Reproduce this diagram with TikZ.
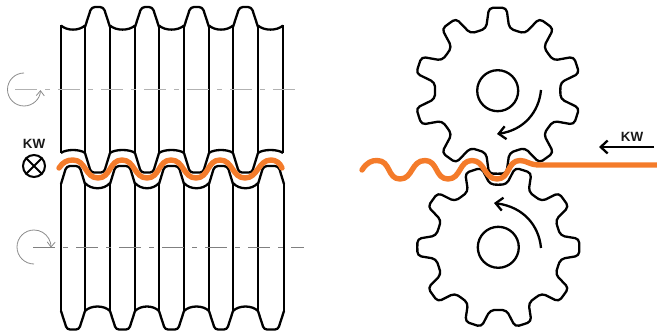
\documentclass[tikz,border=0pt]{standalone}
\usepackage{fontspec}
\setmainfont{Liberation Sans}
\usetikzlibrary{arrows.meta,calc}
\definecolor{wire}{HTML}{F47B2A}
\tikzset{
  rollline/.style={line width=2.3pt,black,line join=round},
  wireline/.style={line width=5.4pt,wire,line cap=round,line join=round},
  axisA/.style={line width=1pt,black!30,dash pattern=on 22pt off 8pt on 5pt off 8pt},
  axisB/.style={line width=.9pt,black!50,dash pattern=on 22pt off 8pt on 5pt off 8pt},
  turn/.style={line width=.8pt,black!45,-{Straight Barb[length=5pt,width=8pt]}},
  sense/.style={line width=2.3pt,black,-{Straight Barb[length=7pt,width=13pt]}},
  kwlabel/.style={font=\bfseries\fontsize{13.4}{15}\selectfont,inner sep=0pt,text=black!90},
}
% #1 centre, #2 angle of first tooth, #3 tip radius
\newcommand{\gearoutline}[3]{%
  \draw[rollline,rounded corners=4pt] ($(#1)+(#2:#3)$)
   \foreach \k in {0,...,8}{
     -- ($(#1)+(#2+36*\k+6:#3+.3)$)
     -- ($(#1)+(#2+36*\k+10.5:63.5)$)
     -- ($(#1)+(#2+36*\k+18:62.5)$)
     -- ($(#1)+(#2+36*\k+25.5:63.5)$)
     -- ($(#1)+(#2+36*\k+30:#3+.3)$)
     -- ($(#1)+(#2+36*\k+36:#3)$)
   }
     -- ($(#1)+(#2+324+6:#3+.3)$)
     -- ($(#1)+(#2+324+10.5:63.5)$)
     -- ($(#1)+(#2+324+18:62.5)$)
     -- ($(#1)+(#2+324+25.5:63.5)$)
     -- ($(#1)+(#2+324+30:#3+.3)$)
     -- cycle;}
\begin{document}
\begin{tikzpicture}[x=1pt,y=-1pt]
\useasboundingbox (0,0) rectangle (657,334);
% ---- rolls
\foreach \s/\e in {61/85,110/135,159/184,209/233,258/283}{
  \draw[rollline] (\s,25.5) .. controls ({\s+6},31) and ({\e-6},31) .. (\e,25.5);
  \draw[rollline] (\s,153) .. controls ({\s+5},149) and ({\e-5},149) .. (\e,153);
  \draw[rollline] (\s,25.5) -- (\s,153) (\e,25.5) -- (\e,153);
}
\foreach \s/\e in {85/110,135/159,184/209,233/258}{
  \draw[rollline,rounded corners=3.5pt] (\s,27) -- ({\s+6.5},7) -- ({\e-6.5},7) -- (\e,27);
  \draw[rollline,rounded corners=3pt] (\s,153) -- ({\s+6},172.5) -- ({\e-6},172.5) -- (\e,153);
  \draw[rollline] (\s,183) .. controls ({\s+6},190) and ({\e-6},190) .. (\e,183);
  \draw[rollline] (\s,311) .. controls ({\s+6},305) and ({\e-6},305) .. (\e,311);
  \draw[rollline] (\s,183) -- (\s,311) (\e,183) -- (\e,311);
}
\foreach \s/\e in {61/85,110/135,159/184,209/233,258/284}{
  \draw[rollline,rounded corners=3.5pt] (\s,184) -- ({\s+5.5},166) -- ({\e-5.5},166) -- (\e,184);
  \draw[rollline,rounded corners=3pt] (\s,311) -- ({\s+6},329.5) -- ({\e-6},329.5) -- (\e,311);
}
\draw[rollline] (61,184) -- (61,311) (284,184) -- (284,311);
% ---- wave, left
\draw[wireline] (59,168) .. controls (63,162) and (67,160) .. (73,160)
  .. controls (86,160) and (85,178) .. (98,178)
  .. controls (111,178) and (109,160) .. (122,160)
  .. controls (135,160) and (134,178) .. (147,178)
  .. controls (160,178) and (158,160) .. (171,160)
  .. controls (184,160) and (183,178) .. (196,178)
  .. controls (209,178) and (207,160) .. (220,160)
  .. controls (233,160) and (232,178) .. (245,178)
  .. controls (258,178) and (258,160) .. (271,160)
  .. controls (276,160) and (280,163) .. (282,168);
% ---- axes and turning arrows
\coordinate (ua) at (15,89.5); \coordinate (ub) at (301,89.5);
\coordinate (la) at (33,247.5); \coordinate (lb) at (304,247.5);
\draw[axisA] (ua) -- (ub);
\draw[axisB] (la) -- (lb);
\draw[turn] (24,73) arc[start angle=-90,end angle=-358,radius=16.5];
\draw[turn] (34,264) arc[start angle=90,end angle=362,radius=17];
% ---- KW symbol
\node[kwlabel] (kwa) at (34,144) {KW};
\node[draw,circle,line width=2pt,minimum size=22pt,inner sep=0pt] (kwc) at (34,166) {};
\draw[line width=2pt] (kwc.45) -- (kwc.225) (kwc.135) -- (kwc.315);
% ---- gears
\gearoutline{497.7,90.7}{90}{83}
\gearoutline{498.3,247.3}{0}{81}
\node[draw,circle,line width=2.3pt,minimum size=41pt,inner sep=0pt] (hu) at (497.7,90.7) {};
\node[draw,circle,line width=2.3pt,minimum size=41pt,inner sep=0pt] (hl) at (498.3,247.3) {};
\draw[sense] (541,90) .. controls (539,112) and (524,130) .. (497,134);
\draw[sense] (541,248) .. controls (539,226) and (524,207) .. (494,203);
% ---- wave, right
\draw[wireline] (362,170) .. controls (367,162) and (372,160.5) .. (377,160.5)
 .. controls (391,160.5) and (387,179) .. (400,179)
 .. controls (413,179) and (411,160.5) .. (425,160.5)
 .. controls (438,160.5) and (435,179) .. (448,179)
 .. controls (461,179) and (459,160.5) .. (472,160.5)
 .. controls (485,160.5) and (484,179) .. (497,179)
 .. controls (510,179) and (507,160.5) .. (520,160.5)
 .. controls (527,160.5) and (529,165) .. (540,165) -- (657,165);
% ---- feed arrow
\coordinate (fa) at (654,147); \coordinate (fb) at (599,147);
\draw[sense] (fa) -- (fb);
\node[kwlabel] (kwb) at (632,136.5) {KW};
\end{tikzpicture}
\end{document}
